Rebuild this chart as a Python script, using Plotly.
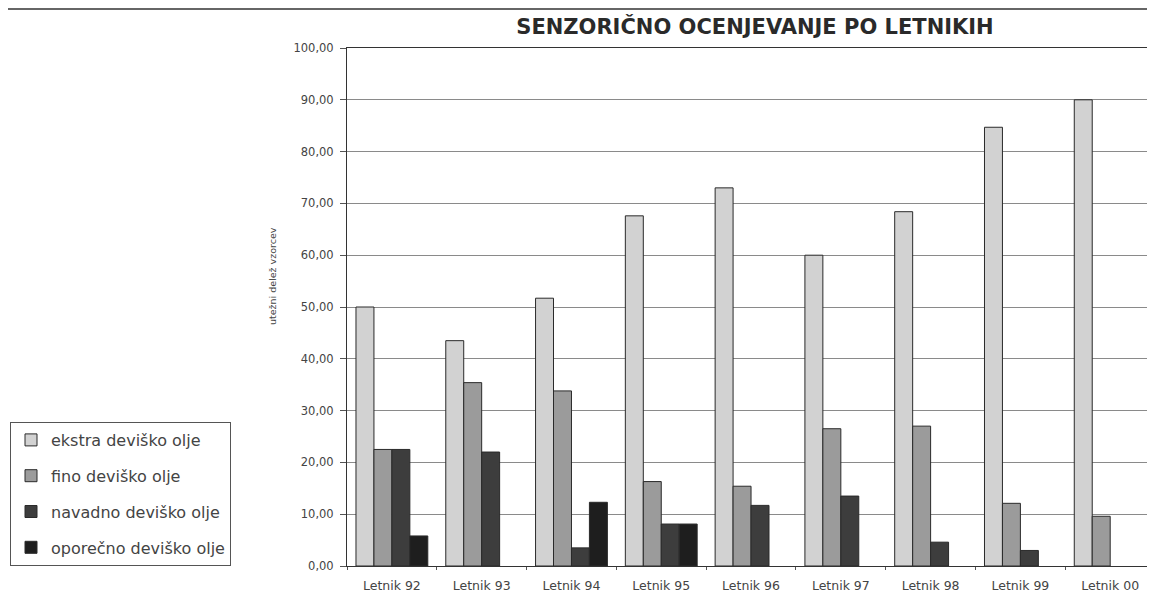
import plotly.graph_objects as go

categories = ["Letnik 92", "Letnik 93", "Letnik 94", "Letnik 95", "Letnik 96",
              "Letnik 97", "Letnik 98", "Letnik 99", "Letnik 00"]
ekstra = [50.0, 43.5, 51.7, 67.6, 73.0, 60.0, 68.4, 84.7, 90.0]
fino = [22.5, 35.4, 33.8, 16.3, 15.4, 26.5, 27.0, 12.1, 9.6]
navadno = [22.5, 22.0, 3.5, 8.1, 11.7, 13.5, 4.6, 3.0, 0.0]
oporecno = [5.8, 0.0, 12.3, 8.1, 0.0, 0.0, 0.0, 0.0, 0.0]

series = [
    ("ekstra deviško olje", ekstra, "#d2d2d2"),
    ("fino deviško olje", fino, "#9b9b9b"),
    ("navadno deviško olje", navadno, "#3d3d3d"),
    ("oporečno deviško olje", oporecno, "#1e1e1e"),
]

FONT = "DejaVu Sans, Verdana, sans-serif"

fig = go.Figure()
for name, vals, color in series:
    # prazni stolpci (0) se ne rišejo
    fig.add_trace(go.Bar(
        x=categories, y=[v if v else None for v in vals], name=name, legendgroup=name,
        marker=dict(color=color, line=dict(color="#2a2a2a", width=1)),
    ))

fig.update_layout(
    width=1139, height=596,
    barmode="group", bargap=0.2, bargroupgap=0,
    separators=",.",
    paper_bgcolor="white", plot_bgcolor="white",
    font=dict(family=FONT, color="#333"),
    margin=dict(t=40, b=38, l=339, r=0),
    title=dict(text="<b>SENZORIČNO OCENJEVANJE PO LETNIKIH</b>",
               x=747 / 1139, xanchor="center", y=1 - 19 / 596, yanchor="middle",
               font=dict(family=FONT, size=21, color="#2a2a2a")),
    legend=dict(
        xref="container", yref="container", x=2 / 1139, y=1 - 414 / 596,
        xanchor="left", yanchor="top",
        bordercolor="#555", borderwidth=1, bgcolor="white",
        font=dict(family=FONT, size=16, color="#444"),
        traceorder="grouped", tracegroupgap=12,
    ),
    showlegend=True,
)

fig.update_yaxes(
    range=[0, 100], dtick=10, tickformat=".2f",
    showgrid=True, gridcolor="#8a8a8a", gridwidth=1,
    showline=True, linecolor="#333", linewidth=1,
    ticks="outside", ticklen=6, tickcolor="#555", ticklabelstandoff=4,
    tickfont=dict(family=FONT, size=11.5, color="#444"),
    zeroline=False,
)
fig.update_xaxes(
    range=[-0.5, 8.41],
    showline=True, linecolor="#333", linewidth=1, mirror=True,
    ticks="outside", ticklen=3, tickcolor="#555", tickson="boundaries",
    ticklabelstandoff=8,
    tickfont=dict(family=FONT, size=12.5, color="#444"),
)

fig.add_annotation(
    text="utežni delež vzorcev", textangle=-90,
    xref="paper", yref="paper", x=-75 / 800, y=(566 - 276) / 518,
    xanchor="center", yanchor="middle", showarrow=False,
    font=dict(family=FONT, size=9.5, color="#444"),
)

fig.add_shape(type="line", xref="paper", yref="paper", x0=-0.5, x1=1.01,
              y0=1 + 39 / 518, y1=1 + 39 / 518, line=dict(color="#666", width=2))

fig.write_html("out.html")
